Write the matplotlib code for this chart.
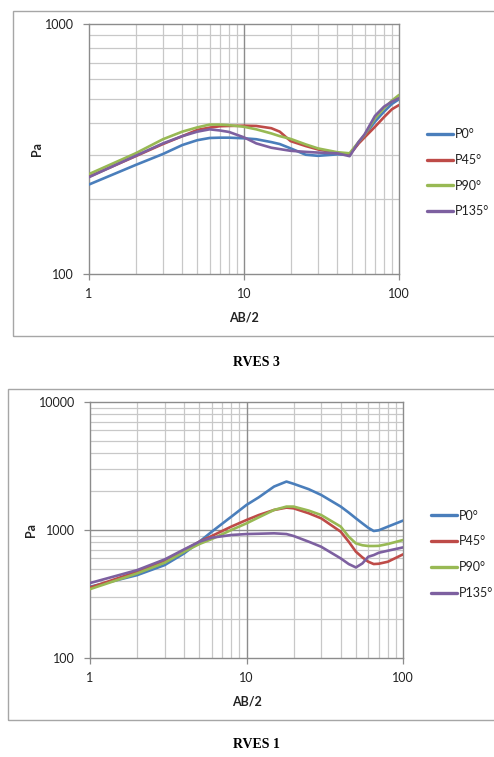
import matplotlib
matplotlib.use("Agg")
import matplotlib.pyplot as plt
from matplotlib.patches import Rectangle
from matplotlib.ticker import FixedLocator, NullFormatter, FixedFormatter

# ---------------- data ----------------
series_names = ["P0°", "P45°", "P90°", "P135°"]
colors = ["#4A7EBB", "#BE4B48", "#98B954", "#7D60A0"]

# RVES 3 (top chart)
x_rves3 = [1, 2, 3, 4, 5, 6, 7, 8, 10, 12, 15, 17, 20, 25, 30, 40, 48, 55, 60, 70, 80, 90, 100]
rves3_p0 = [228, 273, 302, 328, 343, 350, 351, 351, 349, 346, 337, 331, 318, 300, 297, 301, 300, 336, 358, 407, 446, 479, 500]
rves3_p45 = [245, 296, 331, 356, 377, 385, 390, 391, 392, 391, 383, 371, 340, 325, 315, 305, 300, 333, 352, 388, 424, 456, 474]
rves3_p90 = [251, 304, 346, 371, 386, 396, 396, 394, 388, 379, 365, 356, 347, 330, 318, 307, 304, 338, 360, 420, 460, 494, 520]
rves3_p135 = [244, 297, 333, 356, 371, 379, 375, 370, 352, 333, 320, 316, 311, 308, 306, 304, 296, 338, 362, 429, 467, 489, 505]

# RVES 1 (bottom chart)
x_rves1 = [1, 2, 3, 4, 5, 6, 8, 10, 12, 15, 18, 20, 25, 30, 40, 45, 50, 55, 60, 65, 70, 80, 100]
rves1_p0 = [360, 444, 532, 657, 810, 970, 1271, 1570, 1803, 2185, 2390, 2295, 2083, 1879, 1524, 1368, 1234, 1127, 1040, 982, 995, 1062, 1184]
rves1_p45 = [355, 472, 575, 697, 810, 898, 1063, 1197, 1310, 1434, 1495, 1477, 1351, 1234, 970, 810, 677, 611, 565, 542, 545, 565, 645]
rves1_p90 = [345, 458, 555, 677, 777, 850, 1000, 1127, 1257, 1434, 1524, 1524, 1417, 1310, 1063, 887, 786, 760, 750, 750, 752, 777, 835]
rves1_p135 = [385, 486, 589, 706, 810, 871, 914, 930, 935, 942, 930, 898, 810, 740, 600, 542, 510, 548, 618, 637, 664, 689, 731]

x_ticks = [1, 10, 100]
x_tick_labels = ["1", "10", "100"]
y_ticks_top = [100, 1000]
y_ticks_bottom = [100, 1000, 10000]
x_label = "AB/2"
y_label = "Pa"
captions = ["RVES 3", "RVES 1"]

# ---------------- style ----------------
W, H = 494, 757
fig = plt.figure(figsize=(W / 100, H / 100), dpi=100)
fig.patch.set_facecolor("white")

FAM = ["Lato", "DejaVu Sans"]
MINOR_C = "#c8c8c8"
MAJOR_C = "#8c8c8c"


def fx(px):
    return px / W


def fy(py):
    return 1 - py / H


def make_axes(box, ymin, ymax, yticks):
    l, t, r, b = box
    ax = fig.add_axes([fx(l), fy(b), fx(r) - fx(l), fy(t) - fy(b)])
    ax.set_xscale("log")
    ax.set_yscale("log")
    ax.set_xlim(1, 100)
    ax.set_ylim(ymin, ymax)
    minors_x = [m * d for d in (1, 10) for m in range(2, 10)]
    minors_y = []
    d = ymin
    while d < ymax:
        minors_y += [m * d for m in range(2, 10)]
        d *= 10
    for v in minors_x:
        ax.axvline(v, color=MINOR_C, lw=0.9, zorder=1)
    for v in minors_y:
        ax.axhline(v, color=MINOR_C, lw=0.9, zorder=1)
    for v in x_ticks[1:-1]:
        ax.axvline(v, color=MAJOR_C, lw=1.0, zorder=1.5)
    for v in yticks[1:-1]:
        ax.axhline(v, color=MAJOR_C, lw=1.0, zorder=1.5)
    ax.xaxis.set_major_locator(FixedLocator(x_ticks))
    ax.xaxis.set_major_formatter(FixedFormatter(x_tick_labels))
    ax.yaxis.set_major_locator(FixedLocator(yticks))
    ax.yaxis.set_major_formatter(FixedFormatter([str(v) for v in yticks]))
    ax.xaxis.set_minor_locator(FixedLocator([]))
    ax.yaxis.set_minor_locator(FixedLocator([]))
    ax.xaxis.set_minor_formatter(NullFormatter())
    ax.yaxis.set_minor_formatter(NullFormatter())
    ax.tick_params(axis="both", which="major", length=4, width=0.9,
                   color=MAJOR_C, direction="out")
    ax.tick_params(axis="y", pad=7)
    ax.tick_params(axis="x", pad=6)
    for lab in ax.get_xticklabels() + ax.get_yticklabels():
        lab.set_fontfamily(FAM)
        lab.set_fontsize(9)
        lab.set_color("#222222")
    for s in ax.spines.values():
        s.set_color(MAJOR_C)
        s.set_linewidth(1.0)
    return ax


def draw_chart(ax, xs, ys_list, xlab_y, ylab_x):
    for ys, name, c in zip(ys_list, series_names, colors):
        ax.plot(xs, ys, color=c, lw=1.9, label=name, zorder=3,
                solid_joinstyle="round", solid_capstyle="round")
    ax.set_xlabel(x_label, fontfamily=FAM, fontsize=9,
                  fontweight="bold", color="#222222")
    ax.xaxis.set_label_coords(0.5, xlab_y)
    ax.set_ylabel(y_label, fontfamily=FAM, fontsize=9,
                  fontweight="bold", color="#222222")
    ax.yaxis.set_label_coords(ylab_x, 0.5)
    leg = ax.legend(loc="center left", bbox_to_anchor=(1.09, 0.405),
                    frameon=False, borderpad=0, borderaxespad=0,
                    handlelength=2.1, handletextpad=0.12, labelspacing=1.1,
                    prop={"family": FAM, "size": 9})
    for h in leg.get_lines():
        h.set_linewidth(2.4)
    for t in leg.get_texts():
        t.set_color("#222222")


# frames
fig.patches.append(Rectangle((fx(13), fy(336)), fx(494) - fx(13) + 0.01, fy(11) - fy(336),
                             transform=fig.transFigure, fill=False,
                             edgecolor="#a6a6a6", lw=1.0, zorder=0))
fig.patches.append(Rectangle((fx(8), fy(720)), fx(494) - fx(8) + 0.01, fy(389) - fy(720),
                             transform=fig.transFigure, fill=False,
                             edgecolor="#a6a6a6", lw=1.0, zorder=0))

ax1 = make_axes((89, 24, 399, 274), 100, 1000, y_ticks_top)
draw_chart(ax1, x_rves3, [rves3_p0, rves3_p45, rves3_p90, rves3_p135], -0.152, -0.15)

ax2 = make_axes((90, 402, 403, 658), 100, 10000, y_ticks_bottom)
draw_chart(ax2, x_rves1, [rves1_p0, rves1_p45, rves1_p90, rves1_p135], -0.148, -0.17)

# captions
fig.text(fx(256), fy(363), captions[0], ha="center", va="center",
         fontfamily=["Liberation Serif", "DejaVu Serif"], fontsize=10, fontweight="bold")
fig.text(fx(256), fy(745), captions[1], ha="center", va="center",
         fontfamily=["Liberation Serif", "DejaVu Serif"], fontsize=10, fontweight="bold")

fig.savefig("out.png", dpi=100, facecolor="white")
